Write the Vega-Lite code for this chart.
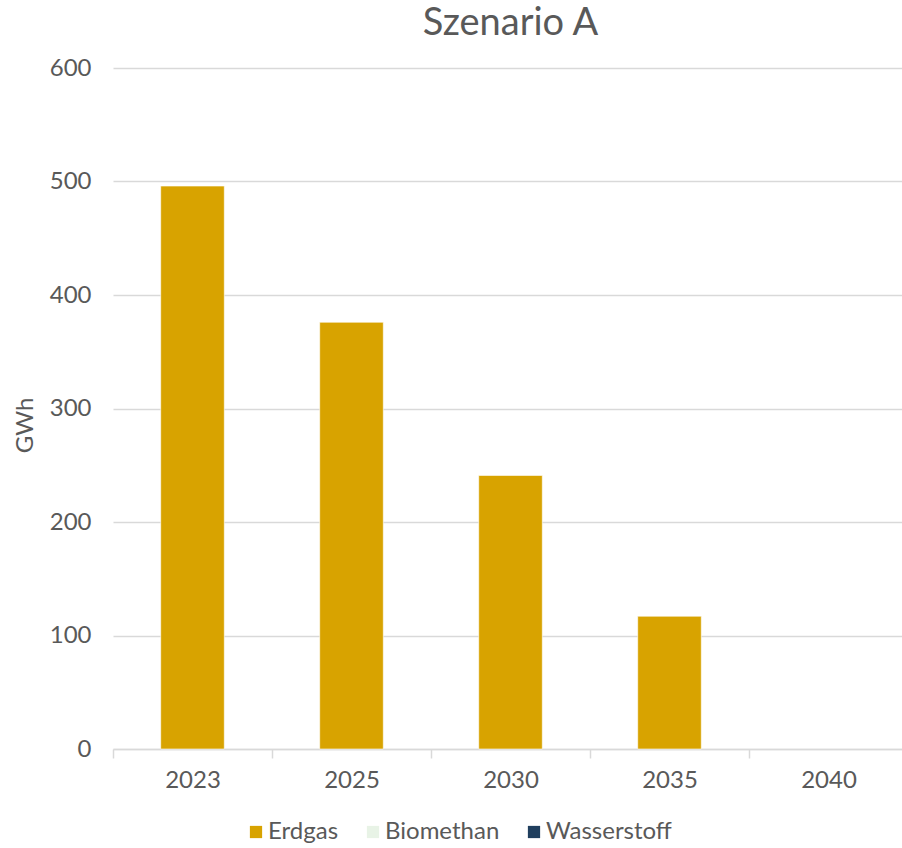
{
  "$schema": "https://vega.github.io/schema/vega-lite/v6.json",
  "autosize": {"type": "none"},
  "width": 795,
  "height": 681,
  "padding": {"left": 113, "top": 68, "right": 0, "bottom": 99},
  "background": "#ffffff",
  "title": {
    "text": "Szenario A",
    "font": "Lato",
    "fontSize": 38,
    "fontWeight": "normal",
    "color": "#595959",
    "anchor": "middle",
    "offset": 13
  },
  "data": {
    "values": [
      {"Jahr": "2023", "Energietraeger": "Erdgas", "GWh": 496},
      {"Jahr": "2023", "Energietraeger": "Biomethan", "GWh": 0},
      {"Jahr": "2023", "Energietraeger": "Wasserstoff", "GWh": 0},
      {"Jahr": "2025", "Energietraeger": "Erdgas", "GWh": 376},
      {"Jahr": "2025", "Energietraeger": "Biomethan", "GWh": 0},
      {"Jahr": "2025", "Energietraeger": "Wasserstoff", "GWh": 0},
      {"Jahr": "2030", "Energietraeger": "Erdgas", "GWh": 241},
      {"Jahr": "2030", "Energietraeger": "Biomethan", "GWh": 0},
      {"Jahr": "2030", "Energietraeger": "Wasserstoff", "GWh": 0},
      {"Jahr": "2035", "Energietraeger": "Erdgas", "GWh": 117},
      {"Jahr": "2035", "Energietraeger": "Biomethan", "GWh": 0},
      {"Jahr": "2035", "Energietraeger": "Wasserstoff", "GWh": 0},
      {"Jahr": "2040", "Energietraeger": "Erdgas", "GWh": 0},
      {"Jahr": "2040", "Energietraeger": "Biomethan", "GWh": 0},
      {"Jahr": "2040", "Energietraeger": "Wasserstoff", "GWh": 0}
    ]
  },
  "transform": [{"filter": "datum.GWh > 0"}],
  "mark": {"type": "bar", "width": {"band": 0.4}, "stroke": "#ffffff", "strokeWidth": 1, "strokeOpacity": 0.6},
  "encoding": {
    "x": {
      "field": "Jahr",
      "type": "ordinal",
      "scale": {"domain": ["2023", "2025", "2030", "2035", "2040"], "paddingInner": 0, "paddingOuter": 0},
      "axis": {
        "title": null,
        "labelAngle": 0,
        "labelFont": "Lato",
        "labelFontSize": 24,
        "labelColor": "#595959",
        "labelPadding": 10,
        "domainColor": "#d9d9d9",
        "domainWidth": 1.5,
        "ticks": true,
        "tickBand": "extent",
        "tickColor": "#d9d9d9",
        "tickWidth": 1.5,
        "tickSize": 9,
        "grid": false
      }
    },
    "y": {
      "field": "GWh",
      "type": "quantitative",
      "stack": "zero",
      "scale": {"domain": [0, 600], "nice": false},
      "axis": {
        "title": "GWh",
        "titleFont": "Lato",
        "titleFontSize": 24,
        "titleFontWeight": "normal",
        "titleColor": "#595959",
        "titleAngle": -90,
        "titleX": -88,
        "titleY": 357,
        "titleAlign": "center",
        "titleBaseline": "middle",
        "values": [0, 100, 200, 300, 400, 500, 600],
        "labelFont": "Lato",
        "labelFontSize": 24,
        "labelColor": "#595959",
        "labelPadding": 22,
        "ticks": false,
        "domain": false,
        "grid": true,
        "gridColor": "#d9d9d9",
        "gridWidth": 1.5
      }
    },
    "color": {
      "field": "Energietraeger",
      "type": "nominal",
      "scale": {
        "domain": ["Erdgas", "Biomethan", "Wasserstoff"],
        "range": ["#D8A300", "#E8F3E6", "#203F5E"]
      },
      "legend": {
        "title": null,
        "orient": "none",
        "direction": "horizontal",
        "legendX": 131,
        "legendY": 752,
        "symbolType": "square",
        "symbolSize": 150,
        "symbolStrokeWidth": 0,
        "symbolOpacity": 1,
        "labelFont": "Lato",
        "labelFontSize": 24,
        "labelColor": "#595959",
        "labelOffset": 0,
        "columnPadding": 22
      }
    },
    "order": {"field": "Energietraeger", "sort": "descending"}
  },
  "config": {"view": {"stroke": null}}
}
